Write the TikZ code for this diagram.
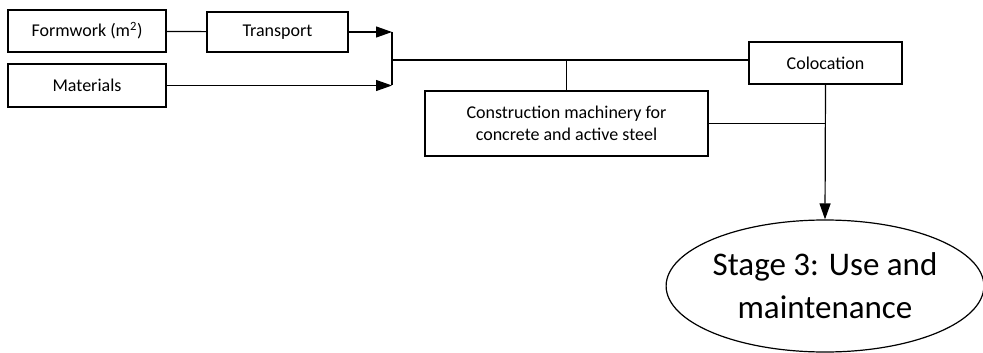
\documentclass[tikz,border=0pt]{standalone}
\usepackage{fontspec}
\setmainfont{Carlito}
\usetikzlibrary{arrows.meta,shapes.geometric}

\begin{document}
\begin{tikzpicture}[x=1pt,y=-1pt,line width=1.2pt,
  box/.style={draw,rectangle,inner sep=0pt,font=\fontsize{18}{22}\selectfont},
  stagebox/.style={draw,ellipse,inner sep=0pt,align=center,font=\fontsize{33}{43}\selectfont},
  arr/.style={-{Triangle[length=16pt,width=11pt]}}]

\useasboundingbox (0,0) rectangle (983,353);

% input boxes
\node [box,minimum width=158pt,minimum height=42pt] (form) at (87,31) {Formwork (m\textsuperscript{2})};
\node [box,minimum width=141pt,minimum height=40pt] (trans) at (277.5,32) {Transport};
\node [box,minimum width=158pt,minimum height=43pt] (mat) at (87,85.5) {Materials};

% machinery and colocation
\node [box,minimum width=283pt,minimum height=65pt,align=center] (mach) at (566.5,123.5) {Construction machinery for\\concrete and active steel};
\node [box,minimum width=153pt,minimum height=42pt] (coloc) at (825.5,63) {Colocation};

% stage 3
\node [stagebox,minimum width=314pt,minimum height=132pt] (stage) at (825,286) {Stage 3: Use and\\maintenance};

\coordinate (jtop) at (392,32);
\coordinate (jbot) at (392,85.5);
\coordinate (jmid) at (392,60);

\draw (form) -- (trans);
\draw [arr] (trans) -- (jtop);
\draw [arr] (mat) -- (jbot);
\draw (jtop) -- (jbot);
\draw (jmid) -- (jmid -| coloc.west);
\draw (mach.north) -- (mach.north |- jmid);
\draw (mach.east) -- (mach.east -| coloc.south);
\draw [arr] (coloc.south) -- (stage.north);

\end{tikzpicture}
\end{document}
